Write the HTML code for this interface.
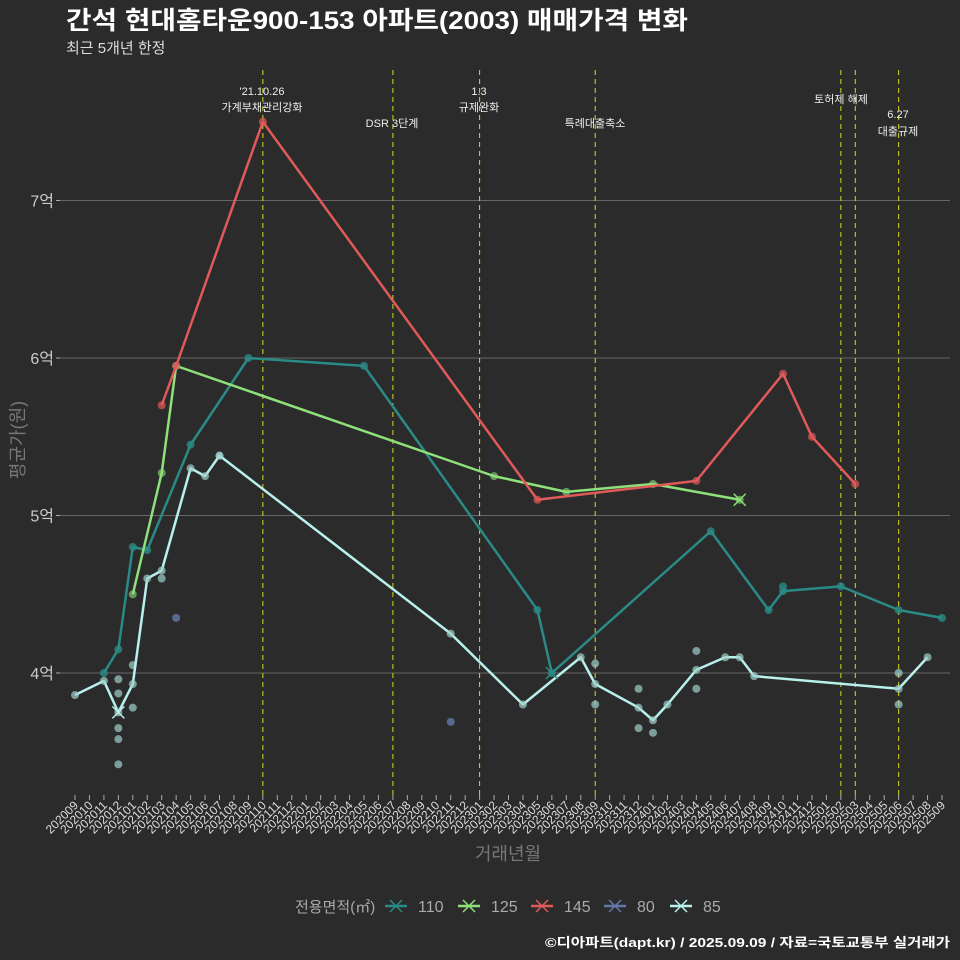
<!DOCTYPE html>
<html><head><meta charset="utf-8"><style>
body{margin:0;background:#2b2b2b;}
svg{display:block;font-family:"Liberation Sans","Noto Sans CJK KR",sans-serif;}
</style></head><body>
<svg id="c" width="960" height="960" viewBox="0 0 960 960" xmlns="http://www.w3.org/2000/svg">
<rect width="960" height="960" fill="#2b2b2b"/>
<text x="66" y="29" font-size="25" font-weight="bold" fill="#fff" textLength="622" lengthAdjust="spacingAndGlyphs">간석 현대홈타운900-153 아파트(2003) 매매가격 변화</text>
<text x="66" y="53" font-size="15" fill="#ddd">최근 5개년 한정</text>
<g id="grid"></g><g id="events"></g><g id="series"></g><g id="xaxis"></g>
<text transform="translate(24,440) rotate(-90)" text-anchor="middle" font-size="18" fill="#777">평균가(원)</text>
<text x="508" y="860" text-anchor="middle" font-size="18" fill="#777">거래년월</text>
<g id="legend"></g>
<text x="950" y="947" text-anchor="end" font-size="13" font-weight="bold" fill="#fff" textLength="405" lengthAdjust="spacingAndGlyphs">©디아파트(dapt.kr) / 2025.09.09 / 자료=국토교통부 실거래가</text>
</svg>
<script>
const months=[];for(let y=2020,m=9;!(y===2025&&m>9);){months.push(y+String(m).padStart(2,'0'));m++;if(m>12){m=1;y++;}}
const yTicks=[4,5,6,7];
const yTickLabels=['4억','5억','6억','7억'];
const s110Idx=[2,3,4,5,8,12,20,32,33,44,48,49,53,57,60];
const s110Val=[4.0,4.15,4.80,4.78,5.45,6.0,5.95,4.40,4.0,4.90,4.40,4.52,4.55,4.40,4.35];
const s125Idx=[4,6,7,29,34,40,46];
const s125Val=[4.50,5.27,5.95,5.25,5.15,5.20,5.10];
const s145Idx=[6,7,13,32,43,49,51,54];
const s145Val=[5.70,5.95,7.50,5.10,5.22,5.90,5.50,5.20];
const s85Idx=[0,2,3,4,5,6,8,9,10,26,31,35,36,39,40,41,43,45,46,47,57,59];
const s85Val=[3.86,3.95,3.75,3.93,4.60,4.65,5.30,5.25,5.38,4.25,3.80,4.10,3.93,3.78,3.70,3.80,4.02,4.10,4.10,3.98,3.90,4.10];
const dots85Idx=[3,3,3,3,3,4,4,6,36,36,39,39,40,43,43,57,57,10];
const dots85Val=[3.96,3.87,3.65,3.58,3.42,4.05,3.78,4.60,4.06,3.80,3.90,3.65,3.62,4.14,3.90,4.00,3.80,5.38];
const dots110Idx=[49];const dots110Val=[4.55];
const s80Idx=[7,26];const s80Val=[4.35,3.69];
const crossIdx=[33,46,3];const crossVal=[4.0,5.10,3.75];const crossCol=['#2a8a86','#8ee07a','#b8f0ec'];
const eventIdx=[13,22,28,36,53,54,57];
const x=i=>75+i*14.45;
const y=v=>673-(v-4)*157.5;
const NS='http://www.w3.org/2000/svg';
function mk(tag,attrs,parent,text){const e=document.createElementNS(NS,tag);for(const k in attrs)e.setAttribute(k,attrs[k]);if(text!=null)e.textContent=text;parent.appendChild(e);return e;}
const grid=document.getElementById('grid');
yTicks.forEach((t,k)=>{
 const l=mk('line',{x1:60,x2:950,y1:y(t),y2:y(t),stroke:'#666','stroke-width':1},grid);
 
 
 mk('line',{x1:56,x2:60,y1:y(t),y2:y(t),stroke:'#aaa'},grid);
 const tx=mk('text',{x:54,y:y(t)+6,'text-anchor':'end','font-size':16,fill:'#ccc'},grid,yTickLabels[k]);
 
 
});
const ev=document.getElementById('events');
eventIdx.forEach(i=>{
 const l=mk('line',{x1:x(i),x2:x(i),y1:70,y2:795,stroke:'#d8d820','stroke-width':1,'stroke-dasharray':'5,4'},ev);
 
 
});
const anns=[[262,95,"'21.10.26"],[262,111,'가계부채관리강화'],[392,127,'DSR 3단계'],[479,95,'1.3'],[479,111,'규제완화'],[595,127,'특례대출축소'],[841,103,'토허제 해제'],[898,118,'6.27'],[898,135,'대출규제']];
anns.forEach(a=>{const t=mk('text',{x:a[0],y:a[1],'text-anchor':'middle','font-size':11,fill:'#eee'},ev,a[2]);
 
 });
const xa=document.getElementById('xaxis');
months.forEach((m,i)=>{
 mk('line',{x1:x(i),x2:x(i),y1:795,y2:800,stroke:'#aaa'},xa);
 const t=mk('text',{transform:`translate(${x(i)+4},806) rotate(-45)`,'text-anchor':'end','font-size':12,fill:'#ddd'},xa,m);
 
 
});
const sg=document.getElementById('series');
function line(idx,val,color,name){
 const p=mk('polyline',{points:idx.map((i,k)=>x(i)+','+y(val[k])).join(' '),fill:'none',stroke:color,'stroke-width':2.5,'stroke-linejoin':'round'},sg);
 
 
}
function dots(idx,val,color,name,op){
 idx.forEach((i,k)=>{const c=mk('circle',{cx:x(i),cy:y(val[k]),r:4,fill:color,opacity:op},sg);
 
 });
}
dots(s80Idx,s80Val,'#6478a8','point-80',0.8);
dots(dots85Idx,dots85Val,'#9fd0cc','point-85',0.7);
dots(dots110Idx,dots110Val,'#2a8a86','point-110',0.8);
line(s110Idx,s110Val,'#2a8a86','line-110');dots(s110Idx,s110Val,'#2a8a86','point-110',0.8);
line(s125Idx,s125Val,'#8ee07a','line-125');dots(s125Idx,s125Val,'#8ee07a','point-125',0.6);
line(s145Idx,s145Val,'#e05a5a','line-145');dots(s145Idx,s145Val,'#e05a5a','point-145',0.7);
line(s85Idx,s85Val,'#b8f0ec','line-85');dots(s85Idx,s85Val,'#9fd0cc','point-85',0.7);
crossIdx.forEach((i,k)=>{const cx=x(i),cy=y(crossVal[k]);
 const p=mk('path',{d:`M${cx-6},${cy-6}L${cx+6},${cy+6}M${cx-6},${cy+6}L${cx+6},${cy-6}`,stroke:crossCol[k],'stroke-width':1.5},sg);
 
 });
const lg=document.getElementById('legend');
const lt=mk('text',{x:295,y:912,'font-size':15,fill:'#aaa'},lg,'전용면적(㎡)');


[['110','#2a8a86',396],['125','#8ee07a',469],['145','#e05a5a',542],['80','#6478a8',615],['85','#b8f0ec',681]].forEach(e=>{
 const g=mk('g',{},lg);
 
 
 mk('line',{x1:e[2]-11,x2:e[2]+11,y1:906,y2:906,stroke:e[1],'stroke-width':2.5},g);
 mk('path',{d:`M${e[2]-6},900L${e[2]+6},912M${e[2]-6},912L${e[2]+6},900`,stroke:e[1],'stroke-width':1.5},g);
 mk('text',{x:e[2]+22,y:912,'font-size':16,fill:'#aaa'},g,e[0]);
});
</script>
</body></html>
